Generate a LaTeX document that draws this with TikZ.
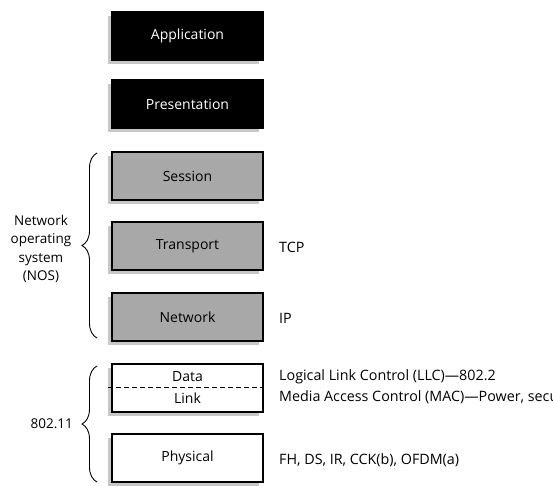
\documentclass[tikz,border=0pt]{standalone}
\usepackage{fontspec}
\setmainfont{Open Sans}
\usetikzlibrary{shadows,decorations.pathreplacing}
\begin{document}
\begin{tikzpicture}[x=1pt, y=-1pt,
    every node/.style={font=\fontsize{14}{16}\selectfont, inner sep=0pt},
    layer/.style={draw=black, line width=1.4pt, minimum width=151pt, minimum height=48pt,
        drop shadow={shadow xshift=-4pt, shadow yshift=-4pt, fill=black!22, opacity=1}},
    upper/.style={layer, fill=black, text=white},
    nos/.style={layer, fill=black!34},
    lower/.style={layer, fill=white},
    note/.style={anchor=west, font=\fontsize{14.3}{16}\selectfont},
    grp/.style={draw, line width=0.9pt, decorate, decoration={brace, amplitude=15pt}}]
        \clip (0,0) rectangle (553,485);
        \fill[white] (0,0) rectangle (553,485);
        % OSI layers
        \coordinate (l7) at (187.5,36);
        \coordinate (l6) at (187.5,104);
        \coordinate (l5) at (187.5,176);
        \coordinate (l4) at (187.5,246);
        \coordinate (l3) at (187.5,317);
        \coordinate (l2) at (187.5,388);
        \coordinate (l1) at (187.5,458);
        \node[upper] (app) at (l7) {Application};
        \node[upper] (pres) at (l6) {Presentation};
        \node[nos] (sess) at (l5) {Session};
        \node[nos] (trans) at (l4) {Transport};
        \node[nos] (net) at (l3) {Network};
        \node[lower] (dlink) at (l2) {};
        \node[lower] (phys) at (l1) {Physical};
        \node (data) at (187.5,377) {Data};
        \node (link) at (187.5,398) {Link};
        \coordinate (split a) at (108,387);
        \coordinate (split b) at (263,387);
        \draw[line width=1pt, dash pattern=on 5pt off 3pt] (split a)--(split b);
        % braces
        \coordinate (nos top) at (97,153);
        \coordinate (nos bot) at (97,338);
        \coordinate (wl top) at (97,366);
        \coordinate (wl bot) at (97,482);
        \draw[grp] (nos bot)--(nos top);
        \draw[grp] (wl bot)--(wl top);
        \node[align=center, font=\fontsize{13.5}{18.3}\selectfont] (noslbl) at (41,249) {Network\\operating\\system\\(NOS)};
        \node[anchor=east, font=\fontsize{13.5}{15}\selectfont] (wllbl) at (73,424) {802.11};
        % protocols
        \node[note] (tcp) at (279,247) {TCP};
        \node[note] (ip) at (279,318) {IP};
        \node[note] (llc) at (279,377) {Logical Link Control (LLC)—802.2};
        \node[note] (mac) at (279,398) {Media Access Control (MAC)—Power, security};
        \node[note] (phy) at (279,460) {FH, DS, IR, CCK(b), OFDM(a)};
    \end{tikzpicture}
\end{document}
